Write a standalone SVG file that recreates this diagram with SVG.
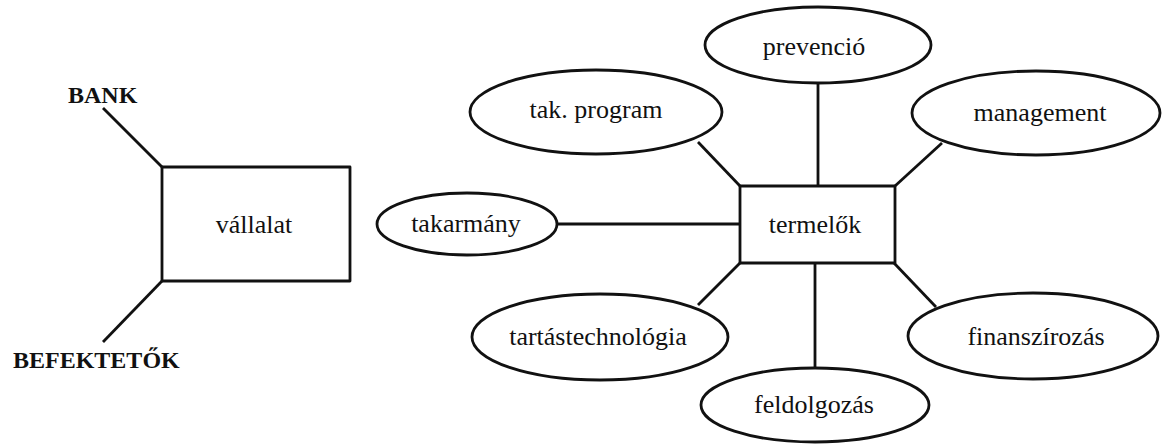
<svg xmlns="http://www.w3.org/2000/svg" width="1162" height="444" viewBox="0 0 1162 444">
<style>
.s{fill:none;stroke:#111;stroke-width:2.8;stroke-linejoin:round}
.b{fill:#fff;stroke:#111;stroke-width:2.8;stroke-linejoin:round}
.t{font-family:"Liberation Serif","Times New Roman",serif;font-size:26px;fill:#111;text-anchor:middle}
.tb{font-family:"Liberation Serif","Times New Roman",serif;font-size:24px;font-weight:bold;fill:#111}
</style>
<rect width="1162" height="444" fill="#fff"/>
<g id="connectors" class="s">
<line x1="103" y1="108" x2="162" y2="167"/>
<line x1="103" y1="342" x2="162" y2="281"/>
<line x1="558" y1="224" x2="740" y2="224"/>
<line x1="698" y1="142" x2="740" y2="186"/>
<line x1="818" y1="83" x2="818" y2="186"/>
<line x1="942" y1="143" x2="895" y2="186"/>
<line x1="740" y1="263" x2="698" y2="305"/>
<line x1="815" y1="263" x2="815" y2="368"/>
<line x1="894" y1="263" x2="936" y2="307"/>
</g>
<g id="bank"><text class="tb" x="68" y="103">BANK</text></g>
<g id="befektetok"><text class="tb" x="13" y="368">BEFEKTETŐK</text></g>
<g id="vallalat"><rect class="b" x="162" y="167" width="188" height="114"/><text class="t" x="254" y="233">vállalat</text></g>
<g id="termelok"><rect class="b" x="740" y="186" width="155" height="77"/><text class="t" x="815" y="233">termelők</text></g>
<g id="prevencio"><ellipse class="b" cx="818" cy="45" rx="113" ry="38"/><text class="t" x="814" y="55">prevenció</text></g>
<g id="takprogram"><ellipse class="b" cx="596" cy="112" rx="126" ry="42"/><text class="t" x="596" y="118">tak. program</text></g>
<g id="management"><ellipse class="b" cx="1036" cy="113" rx="124" ry="42"/><text class="t" x="1040" y="121">management</text></g>
<g id="takarmany"><ellipse class="b" cx="467" cy="224" rx="90" ry="31"/><text class="t" x="466" y="232">takarmány</text></g>
<g id="tartastechnologia"><ellipse class="b" cx="600" cy="337" rx="128" ry="43"/><text class="t" x="598" y="345">tartástechnológia</text></g>
<g id="finanszirozas"><ellipse class="b" cx="1033" cy="336" rx="125" ry="43"/><text class="t" x="1036" y="345">finanszírozás</text></g>
<g id="feldolgozas"><ellipse class="b" cx="815" cy="405" rx="114" ry="37"/><text class="t" x="814" y="413">feldolgozás</text></g>
</svg>
